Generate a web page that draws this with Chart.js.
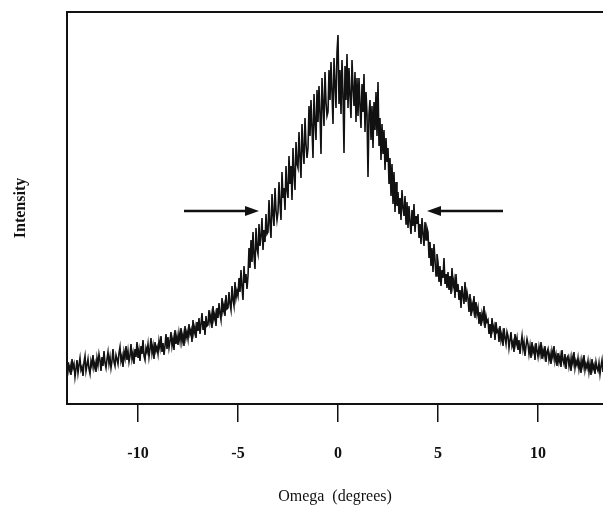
<!DOCTYPE html>
<html>
<head>
<meta charset="utf-8">
<script src="https://cdn.jsdelivr.net/npm/chart.js@4.4.1/dist/chart.umd.min.js"></script>
<style>
    body { margin: 0; background: #fff; }
</style>
</head>
<body>
<canvas id="rockingCurveCanvas" width="603" height="508"></canvas>
<script>
// omega scan: first angle and step (degrees)
const omegaStart = -13.5
const omegaStep = 0.05

// intensity, arbitrary units, one row per half degree
const intensity = [
    42, 33, 38, 29, 45, 36, 40, 27, 35, 44,
    31, 39, 46, 34, 37, 28, 42, 48, 33, 39,
    45, 35, 30, 43, 38, 49, 36, 41, 32, 46,
    39, 50, 44, 33, 47, 38, 53, 41, 36, 45,
    52, 40, 47, 36, 43, 55, 42, 38, 49, 45,
    40, 51, 57, 43, 48, 37, 52, 46, 58, 44,
    53, 42, 48, 60, 45, 51, 40, 55, 47, 62,
    46, 54, 43, 58, 50, 64, 48, 44, 56, 52,
    60, 47, 55, 66, 51, 58, 45, 62, 53, 57,
    50, 63, 56, 68, 52, 61, 49, 58, 70, 55,
    67, 56, 63, 72, 58, 65, 54, 74, 60, 68,
    59, 71, 63, 76, 62, 69, 58, 78, 66, 72,
    65, 80, 70, 74, 62, 84, 71, 77, 66, 82,
    73, 86, 70, 80, 91, 74, 83, 69, 88, 78,
    79, 94, 82, 89, 76, 98, 85, 90, 78, 96,
    86, 101, 90, 84, 106, 93, 99, 88, 109, 95,
    96, 112, 100, 94, 118, 104, 98, 122, 106, 113,
    108, 126, 112, 134, 117, 104, 138, 121, 130, 115,
    128, 156, 136, 164, 142, 172, 148, 135, 176, 155,
    150, 180, 158, 168, 186, 154, 174, 162, 190, 170,
    172, 204, 180, 166, 210, 190, 178, 216, 194, 184,
    192, 222, 200, 184, 232, 206, 216, 194, 238, 214,
    206, 248, 220, 238, 204, 256, 230, 214, 262, 240,
    236, 272, 246, 226, 280, 254, 240, 286, 260, 246,
    256, 298, 268, 304, 276, 246, 310, 282, 264, 314,
    282, 318, 290, 250, 326, 300, 278, 332, 302, 288,
    292, 334, 304, 342, 312, 280, 346, 320, 296, 352,
    369, 300, 334, 290, 344, 310, 251, 338, 304, 350,
    296, 336, 308, 286, 344, 316, 298, 332, 282, 326,
    288, 326, 298, 276, 320, 292, 330, 272, 312, 290,
    227, 290, 304, 264, 298, 256, 302, 274, 312, 268,
    322, 258, 286, 244, 280, 250, 274, 234, 266, 242,
    256, 220, 246, 208, 240, 200, 232, 192, 222, 198,
    212, 190, 206, 184, 214, 196, 188, 208, 180, 202,
    176, 198, 182, 170, 194, 178, 200, 172, 188, 180,
    190, 166, 180, 160, 186, 170, 158, 182, 164, 176,
    172, 146, 162, 138, 156, 132, 160, 144, 128, 150,
    142, 122, 138, 118, 134, 126, 146, 120, 130, 116,
    132, 114, 128, 110, 136, 118, 124, 106, 130, 112,
    120, 104, 114, 96, 118, 108, 100, 122, 102, 112,
    106, 92, 110, 88, 100, 94, 108, 86, 102, 90,
    96, 80, 92, 78, 90, 84, 98, 76, 88, 82,
    84, 70, 80, 66, 86, 74, 78, 64, 82, 72,
    74, 62, 78, 64, 70, 58, 76, 66, 60, 72,
    68, 56, 64, 72, 58, 62, 52, 70, 60, 66,
    54, 64, 50, 60, 68, 55, 62, 48, 58, 65,
    60, 50, 58, 46, 62, 52, 56, 44, 61, 53,
    47, 57, 50, 62, 45, 54, 48, 58, 42, 52,
    55, 44, 50, 40, 53, 47, 58, 43, 49, 38,
    51, 42, 48, 37, 54, 44, 40, 50, 35, 46,
    48, 38, 45, 33, 47, 41, 52, 36, 43, 39,
    46, 35, 42, 31, 44, 38, 49, 34, 40, 36,
    43, 32, 40, 29, 45, 35, 39, 30, 42, 36,
    33, 41, 30, 38, 44, 32, 37
]

// x tick values
const omegaTicks = [-10, -5, 0, 5, 10]

// FWHM arrows: tail and tip in degrees, height in intensity units
const arrowTails = [-7.7, 8.25]
const arrowTips = [-3.95, 4.45]
const arrowLevel = 193

const ink = '#111111'

const frameAndArrows = {
    id: 'frameAndArrows',
    afterDatasetsDraw(chart) {
        const { ctx, chartArea, scales } = chart
        ctx.save()
        ctx.strokeStyle = ink
        ctx.fillStyle = ink
        ctx.lineWidth = 2
        ctx.beginPath()
        ctx.moveTo(chartArea.left - 1, chartArea.top)
        ctx.lineTo(chartArea.right, chartArea.top)
        ctx.stroke()

        for (let i = 0; i < arrowTails.length; i++) {
            let x0 = scales.x.getPixelForValue(arrowTails[i])
            let x1 = scales.x.getPixelForValue(arrowTips[i])
            let y = scales.y.getPixelForValue(arrowLevel)
            let dir = Math.sign(x1 - x0)
            ctx.lineWidth = 2.5
            ctx.beginPath()
            ctx.moveTo(x0, y)
            ctx.lineTo(x1 - dir * 10, y)
            ctx.stroke()
            ctx.beginPath()
            ctx.moveTo(x1, y)
            ctx.lineTo(x1 - dir * 14, y - 5)
            ctx.lineTo(x1 - dir * 14, y + 5)
            ctx.closePath()
            ctx.fill()
        }
        ctx.restore()
    }
}

function createRockingCurveChart() {
    let points = []
    for (let i = 0; i < intensity.length; i++) {
        points.push({ x: omegaStart + i * omegaStep, y: intensity[i] })
    }

    new Chart(document.getElementById('rockingCurveCanvas'), {
        type: 'line',
        data: {
            datasets: [{
                label: 'Intensity',
                data: points,
                borderColor: ink,
                borderWidth: 1.6,
                pointRadius: 0,
                tension: 0,
                fill: false
            }]
        },
        options: {
            responsive: false,
            animation: false,
            events: [],
            layout: {
                padding: { left: 0, right: 0, top: 12, bottom: 0 }
            },
            plugins: {
                legend: { display: false },
                tooltip: { enabled: false }
            },
            scales: {
                x: {
                    type: 'linear',
                    min: -13.55,
                    max: 13.25,
                    afterFit: function (scale) { scale.height = 104 },
                    afterBuildTicks: function (scale) {
                        scale.ticks = omegaTicks.map(v => ({ value: v }))
                    },
                    ticks: {
                        includeBounds: false,
                        color: ink,
                        padding: 22,
                        maxRotation: 0,
                        font: { family: '"Liberation Serif", "Times New Roman", serif', size: 16, weight: 'bold' }
                    },
                    grid: {
                        drawOnChartArea: false,
                        drawTicks: true,
                        tickLength: 18,
                        color: ink,
                        lineWidth: 1.5
                    },
                    border: { display: true, color: ink, width: 2 },
                    title: {
                        display: true,
                        text: 'Omega  (degrees)',
                        color: ink,
                        padding: { top: 0, bottom: 2 },
                        font: { family: '"Liberation Serif", "Times New Roman", serif', size: 16 }
                    }
                },
                y: {
                    type: 'linear',
                    min: 0,
                    max: 392,
                    afterFit: function (scale) { scale.width = 67 },
                    ticks: { display: false },
                    grid: { drawOnChartArea: false, drawTicks: false },
                    border: { display: true, color: ink, width: 2 },
                    title: {
                        display: true,
                        text: 'Intensity',
                        color: ink,
                        padding: { top: 11, bottom: 0 },
                        font: { family: '"Liberation Serif", "Times New Roman", serif', size: 16, weight: 'bold' }
                    }
                }
            }
        },
        plugins: [frameAndArrows]
    })
}

createRockingCurveChart()
</script>
</body>
</html>
